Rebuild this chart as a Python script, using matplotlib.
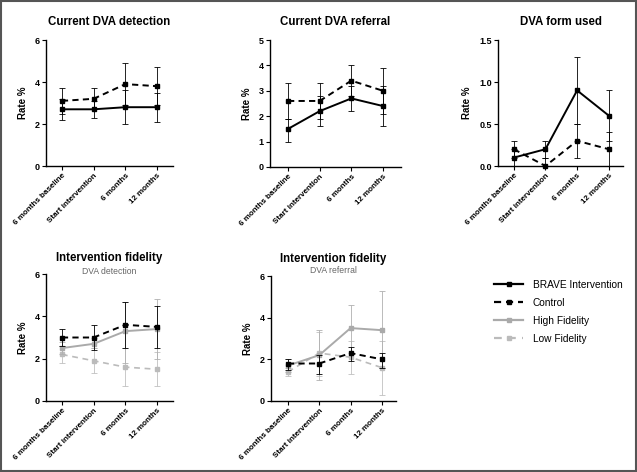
import matplotlib
matplotlib.use("Agg")
import matplotlib.pyplot as plt
from matplotlib.lines import Line2D
from matplotlib.patches import Rectangle

plt.rcParams['font.family'] = ['Liberation Sans', 'DejaVu Sans']

categories = ["6 months baseline", "Start intervention", "6 months", "12 months"]

# Current DVA detection
brave_det = [2.7, 2.7, 2.8, 2.8]
brave_det_lo = [2.2, 2.3, 2.0, 2.1]
brave_det_hi = [3.2, 3.1, 3.6, 3.5]
ctrl_det = [3.1, 3.2, 3.9, 3.8]
ctrl_det_lo = [2.5, 2.7, 2.9, 2.9]
ctrl_det_hi = [3.7, 3.7, 4.9, 4.7]

# Current DVA referral
brave_ref = [1.5, 2.2, 2.7, 2.4]
brave_ref_lo = [1.0, 1.6, 2.2, 1.6]
brave_ref_hi = [1.9, 2.8, 3.2, 3.2]
ctrl_ref = [2.6, 2.6, 3.4, 3.0]
ctrl_ref_lo = [1.9, 1.9, 2.8, 2.1]
ctrl_ref_hi = [3.3, 3.3, 4.0, 3.9]

# DVA form used
brave_form = [0.1, 0.2, 0.9, 0.6]
brave_form_lo = [0.0, 0.1, 0.5, 0.3]
brave_form_hi = [0.2, 0.3, 1.3, 0.9]
ctrl_form = [0.2, 0.0, 0.3, 0.2]
ctrl_form_lo = [0.1, 0.0, 0.1, 0.0]
ctrl_form_hi = [0.3, 0.1, 0.5, 0.4]

# Intervention fidelity - DVA detection
ctrl_fd = [3.0, 3.0, 3.6, 3.5]
ctrl_fd_lo = [2.6, 2.4, 2.5, 2.5]
ctrl_fd_hi = [3.4, 3.6, 4.7, 4.5]
high_fd = [2.5, 2.7, 3.3, 3.4]
high_fd_lo = [2.2, 2.5, 1.8, 2.0]
high_fd_hi = [2.8, 3.0, 4.7, 4.8]
low_fd = [2.2, 1.9, 1.6, 1.5]
low_fd_lo = [1.8, 1.3, 0.7, 0.7]
low_fd_hi = [2.6, 2.5, 2.5, 2.3]

# Intervention fidelity - DVA referral
ctrl_fr = [1.8, 1.8, 2.3, 2.0]
ctrl_fr_lo = [1.5, 1.3, 1.9, 1.6]
ctrl_fr_hi = [2.0, 2.2, 2.6, 2.3]
high_fr = [1.7, 2.2, 3.5, 3.4]
high_fr_lo = [1.4, 1.0, 2.3, 1.6]
high_fr_hi = [2.0, 3.4, 4.6, 5.3]
low_fr = [1.4, 2.3, 2.1, 1.6]
low_fr_lo = [1.2, 1.2, 1.3, 0.3]
low_fr_hi = [1.6, 3.3, 2.9, 2.9]

legend_labels = ["BRAVE Intervention", "Control", "High Fidelity", "Low Fidelity"]

STY = {
    "brave": dict(color="black", ls="-", lw=1.4, ecolor="black", z=4),
    "ctrl": dict(color="black", ls=(0, (3.2, 2.2)), lw=1.4, ecolor="black", z=5),
    "high": dict(color="#aaaaaa", ls="-", lw=1.4, ecolor="#b0b0b0", z=3),
    "low": dict(color="#bbbbbb", ls=(0, (3.5, 2.8)), lw=1.2, ecolor="#c0c0c0", z=2),
}

W, H = 637, 472
fig = plt.figure(figsize=(W / 100, H / 100), dpi=100)
fig.patches.append(Rectangle((0.0015, 0.002), 0.997, 0.996, transform=fig.transFigure,
                             fill=False, edgecolor="#555555", lw=1.5))


def make_ax(l, r, t, b):
    return fig.add_axes([l / W, 1 - b / H, (r - l) / W, (b - t) / H])


def series(ax, y, lo, hi, key):
    s = STY[key]
    x = list(range(len(categories)))
    yerr = [[v - a for v, a in zip(y, lo)], [b - v for v, b in zip(y, hi)]]
    ax.errorbar(x, y, yerr=yerr, fmt="none", ecolor=s["ecolor"], elinewidth=0.6,
                capsize=2.4, capthick=0.6, zorder=s["z"] - 0.5, clip_on=False)
    ax.plot(x, y, color=s["color"], ls=s["ls"], lw=s["lw"], marker="s", ms=3.2,
            mfc=s["color"], mec=s["color"], zorder=s["z"], clip_on=False)


def style(ax, ylim, yticks, xlim, fmt=None):
    ax.set_ylim(*ylim)
    ax.set_xlim(*xlim)
    ax.set_yticks(yticks)
    if fmt:
        ax.set_yticklabels([fmt.format(v) for v in yticks])
    ax.set_xticks(range(len(categories)))
    ax.set_xticklabels(categories, rotation=45, ha="right", rotation_mode="anchor",
                       fontsize=5.8, fontweight="bold")
    for lab in ax.get_yticklabels():
        lab.set_fontsize(6.5)
        lab.set_fontweight("bold")
    for sp in ["top", "right"]:
        ax.spines[sp].set_visible(False)
    for sp in ["left", "bottom"]:
        ax.spines[sp].set_linewidth(1.0)
    ax.tick_params(axis="both", direction="out", length=3, width=0.8, pad=1.5)
    ax.set_ylabel("Rate %", fontsize=7, fontweight="bold", labelpad=5)


TITLE_KW = dict(fontsize=8.3, fontweight="bold")

ax1 = make_ax(46, 173, 40, 166)
series(ax1, brave_det, brave_det_lo, brave_det_hi, "brave")
series(ax1, ctrl_det, ctrl_det_lo, ctrl_det_hi, "ctrl")
style(ax1, (0, 6), [0, 2, 4, 6], (-0.5, 3.5))
ax1.set_title("Current DVA detection", pad=10.5, **TITLE_KW)

ax2 = make_ax(270, 401, 40, 167)
series(ax2, brave_ref, brave_ref_lo, brave_ref_hi, "brave")
series(ax2, ctrl_ref, ctrl_ref_lo, ctrl_ref_hi, "ctrl")
style(ax2, (0, 5), [0, 1, 2, 3, 4, 5], (-0.57, 3.57))
ax2.set_title("Current DVA referral", pad=10.5, **TITLE_KW)

ax3 = make_ax(498, 623, 40, 166)
series(ax3, brave_form, brave_form_lo, brave_form_hi, "brave")
series(ax3, ctrl_form, ctrl_form_lo, ctrl_form_hi, "ctrl")
style(ax3, (0, 1.5), [0.0, 0.5, 1.0, 1.5], (-0.5, 3.45), fmt="{:.1f}")
ax3.set_title("DVA form used", pad=10.5, **TITLE_KW)

ax4 = make_ax(46, 173, 274, 401)
series(ax4, low_fd, low_fd_lo, low_fd_hi, "low")
series(ax4, high_fd, high_fd_lo, high_fd_hi, "high")
series(ax4, ctrl_fd, ctrl_fd_lo, ctrl_fd_hi, "ctrl")
style(ax4, (0, 6), [0, 2, 4, 6], (-0.5, 3.5))
ax4.set_title("Intervention fidelity", pad=9, **TITLE_KW)
ax4.text(0.5, 1.02, "DVA detection", transform=ax4.transAxes, ha="center", va="center",
         fontsize=6.2, color="#666666")

ax5 = make_ax(271, 396, 276, 401)
series(ax5, low_fr, low_fr_lo, low_fr_hi, "low")
series(ax5, high_fr, high_fr_lo, high_fr_hi, "high")
series(ax5, ctrl_fr, ctrl_fr_lo, ctrl_fr_hi, "ctrl")
style(ax5, (0, 6), [0, 2, 4, 6], (-0.54, 3.45))
ax5.set_title("Intervention fidelity", pad=10, **TITLE_KW)
ax5.text(0.5, 1.04, "DVA referral", transform=ax5.transAxes, ha="center", va="center",
         fontsize=6.2, color="#666666")

handles = []
for key in ["brave", "ctrl", "high", "low"]:
    s = STY[key]
    handles.append(Line2D([0], [0], color=s["color"], ls=s["ls"], lw=1.6, marker="s",
                          ms=3.2, mfc=s["color"], mec=s["color"]))
fig.legend(handles, legend_labels, loc="upper left", bbox_to_anchor=(494 / W, 1 - 280 / H),
           frameon=False, fontsize=7.3, handlelength=2.9, handletextpad=0.9,
           labelspacing=0.78, borderaxespad=0, borderpad=0)

fig.savefig("out.png", dpi=100, facecolor="white")
